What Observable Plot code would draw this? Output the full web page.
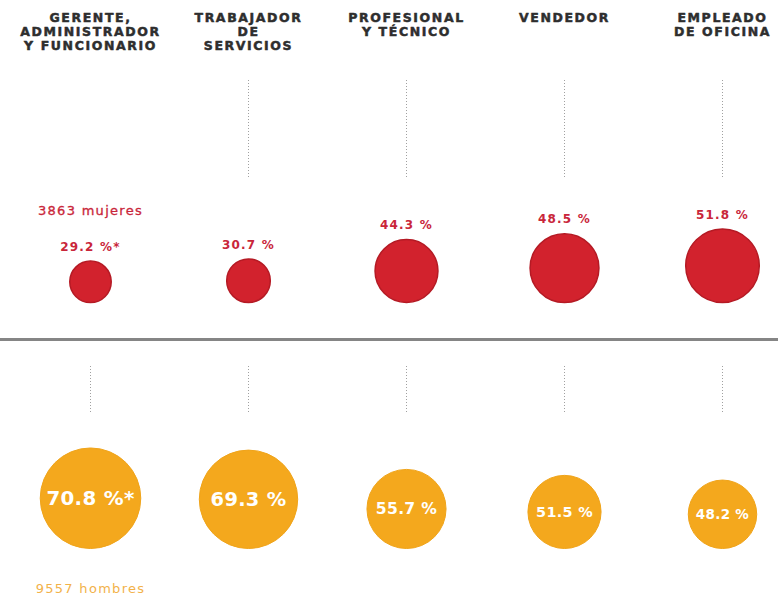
<!DOCTYPE html>
<html>
<head>
<meta charset="utf-8">
<script src="https://cdn.jsdelivr.net/npm/d3@7"></script>
<script src="https://cdn.jsdelivr.net/npm/@observablehq/plot@0.6"></script>
<style>
  html, body { margin: 0; padding: 0; background: #ffffff; }
  g[aria-description="encabezado"] text { letter-spacing: 1.6px; }
  g[aria-description="pct-mujeres"] text { letter-spacing: 1.2px; }
  g[aria-description="total"] text { letter-spacing: 1.3px; }
  g[aria-description="pct-hombres"] text { letter-spacing: 0.3px; }
</style>
</head>
<body>
<div id="chart"></div>
<script>
// ---- Data ----
const categories = [
  "Gerente, administrador y funcionario",
  "Trabajador de servicios",
  "Profesional y técnico",
  "Vendedor",
  "Empleado de oficina"
];
const headerLabels = [
  "GERENTE,\nADMINISTRADOR\nY FUNCIONARIO",
  "TRABAJADOR\nDE\nSERVICIOS",
  "PROFESIONAL\nY TÉCNICO",
  "VENDEDOR",
  "EMPLEADO\nDE OFICINA"
];
const mujeresPct = [29.2, 30.7, 44.3, 48.5, 51.8];
const hombresPct = [70.8, 69.3, 55.7, 51.5, 48.2];
const notes = ["*", "", "", "", ""];
const totalMujeres = 3863;
const totalHombres = 9557;

// ---- Table built from the arrays ----
const rows = categories.map((c, i) => ({
  cat: c, header: headerLabels[i], m: mujeresPct[i], h: hombresPct[i], note: notes[i]
}));
const fmt = v => v.toFixed(1) + " %";
const rowShift = 246; // vertical offset of the "hombres" row

const red = "#d2222d", redEdge = "#b51a24", redText = "#c9263a";
const orange = "#f4a81d", orangeText = "#f2b24a";
const font = "DejaVu Sans, sans-serif";

const chart = Plot.plot({
  width: 778,
  height: 596,
  margin: 0,
  style: {background: "#ffffff", fontFamily: font},
  x: {type: "point", domain: categories, range: [89, 723], padding: 0, axis: null},
  y: {domain: [0, 100], range: [302, 231], axis: null},
  r: {type: "linear", domain: [0, 100], range: [0, 71]},
  marks: [
    // column headers
    Plot.text(rows, {
      x: "cat", text: "header", frameAnchor: "top", lineAnchor: "top", dy: 12,
      lineHeight: 1.1, fontSize: 12.5, fontWeight: "bold", fill: "#2e2e2e",
      stroke: "#2e2e2e", strokeWidth: 0.5,
      fontFamily: font, ariaDescription: "encabezado"
    }),
    // dotted connectors, top row (not for the first column)
    Plot.ruleX(rows.slice(1), {
      x: "cat", insetTop: 80, insetBottom: 418,
      stroke: "#a0a0a0", strokeWidth: 1, strokeDasharray: "1,2"
    }),
    // dotted connectors, bottom row
    Plot.ruleX(rows, {
      x: "cat", insetTop: 366, insetBottom: 184,
      stroke: "#a0a0a0", strokeWidth: 1, strokeDasharray: "1,2"
    }),
    // separator (baseline of the women's row)
    Plot.ruleY([0], {dy: 37, stroke: "#858585", strokeWidth: 3}),
    // women circles
    Plot.dot(rows, {
      x: "cat", y: "m", r: "m", fill: red, stroke: redEdge, strokeWidth: 1.5
    }),
    // women percentages above circles
    Plot.text(rows, {
      x: "cat", y: d => 2 * d.m, dy: -14, text: d => fmt(d.m) + d.note,
      fill: redText, fontSize: 12, fontWeight: "bold", fontFamily: font,
      ariaDescription: "pct-mujeres"
    }),
    // women total
    Plot.text(rows.slice(0, 1), {
      x: "cat", y: d => 2 * d.m, dy: -50, text: () => `${totalMujeres} mujeres`,
      fill: redText, fontSize: 13, fontWeight: "normal", fontFamily: font,
      stroke: redText, strokeWidth: 0.3, ariaDescription: "total"
    }),
    // men circles
    Plot.dot(rows, {
      x: "cat", y: "h", r: "h", dy: rowShift, fill: orange, stroke: "#f0a41a", strokeWidth: 1
    }),
    // men percentages inside circles
    Plot.text(rows, {
      x: "cat", y: "h", dy: rowShift, text: d => fmt(d.h) + d.note,
      fontSize: d => 0.28 * d.h, fill: "#ffffff", fontWeight: "bold", fontFamily: font,
      ariaDescription: "pct-hombres"
    }),
    // men total
    Plot.text(rows.slice(0, 1), {
      x: "cat", y: () => 0, dy: rowShift + 40, text: () => `${totalHombres} hombres`,
      fill: orangeText, fontSize: 13, fontWeight: "normal", fontFamily: font,
      ariaDescription: "total"
    })
  ]
});
document.getElementById("chart").appendChild(chart);
</script>
</body>
</html>
